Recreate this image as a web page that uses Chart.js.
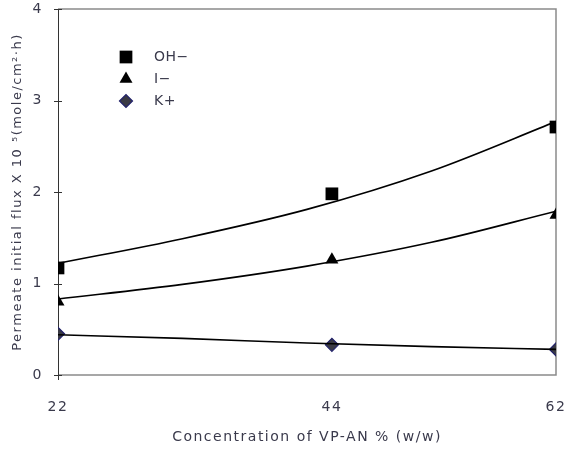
<!DOCTYPE html>
<html>
<head>
<meta charset="utf-8">
<script src="https://cdn.jsdelivr.net/npm/chart.js@4"></script>
<style>
  html, body { margin: 0; padding: 0; background: #fff; }
  #wrap { width: 566px; height: 452px; }
</style>
</head>
<body>
<div id="wrap"><canvas id="fluxChart" width="566" height="452"></canvas></div>
<script>
// measured concentrations and fluxes
const concentration = [22, 44, 62];
const fluxOH = [1.17, 1.98, 2.71];
const fluxI = [0.80, 1.26, 1.75];
const fluxK = [0.45, 0.33, 0.28];

// trend curves, sampled along the x range
const trendX = [22, 32, 42, 52, 62];
const trendOH = [1.22, 1.49, 1.81, 2.23, 2.77];
const trendI = [0.83, 0.99, 1.19, 1.45, 1.79];
const trendK = [0.44, 0.40, 0.35, 0.31, 0.28];

const xTicks = [22, 44, 62];
const yTicks = [0, 1, 2, 3, 4];

const textColor = '#3a3a4c';
const font = { family: 'DejaVu Sans', size: 14 };

function pairs(xs, ys) {
  return xs.map((x, i) => ({ x, y: ys[i] }));
}

function trendSet(ys) {
  return {
    data: pairs(trendX, ys),
    borderColor: '#000',
    borderWidth: 1.6,
    pointRadius: 0,
    cubicInterpolationMode: 'monotone',
    fill: false,
    showLine: true
  };
}

const series = [
  { label: 'OH\u2212', data: pairs(concentration, fluxOH), pointStyle: 'rect', pointRadius: 9,
    backgroundColor: '#000', borderColor: '#000', borderWidth: 0 },
  { label: 'I\u2212', data: pairs(concentration, fluxI), pointStyle: 'triangle', pointRadius: 7.5,
    backgroundColor: '#000', borderColor: '#000', borderWidth: 0 },
  { label: 'K+', data: pairs(concentration, fluxK), pointStyle: 'rectRot', pointRadius: 6.5,
    backgroundColor: '#3a3a44', borderColor: '#22226a', borderWidth: 1.2 }
];

// wider letter spacing for all chart text (canvas resize resets it)
const spacing = {
  id: 'spacing',
  beforeUpdate(chart) { chart.ctx.letterSpacing = '1.5px'; },
  beforeDraw(chart) { chart.ctx.letterSpacing = '1.5px'; }
};

// small legend inside the plot, top left
const legendBox = {
  id: 'legendBox',
  afterDatasetsDraw(chart) {
    const ctx = chart.ctx;
    ctx.save();
    ctx.font = '14px "DejaVu Sans"';
    ctx.letterSpacing = '0.5px';
    ctx.textBaseline = 'middle';
    series.forEach((s, i) => {
      const y = 57 + i * 22;
      ctx.fillStyle = s.backgroundColor;
      ctx.strokeStyle = s.borderColor;
      ctx.lineWidth = s.borderWidth;
      Chart.helpers.drawPoint(ctx, {
        pointStyle: s.pointStyle,
        radius: s.pointRadius,
        borderWidth: s.borderWidth
      }, 126, y);
      ctx.fillStyle = textColor;
      ctx.fillText(s.label, 154, y);
    });
    ctx.restore();
  }
};

// y ticks crossing the axis, and the gray frame
const frame = {
  id: 'frame',
  beforeDatasetsDraw(chart) {
    const { ctx, chartArea: a, scales } = chart;
    ctx.save();
    ctx.strokeStyle = '#8a8a8a';
    ctx.lineWidth = 1.5;
    ctx.beginPath();
    ctx.moveTo(a.left, a.top);
    ctx.lineTo(a.right, a.top);
    ctx.lineTo(a.right, a.bottom);
    ctx.lineTo(a.left, a.bottom);
    ctx.stroke();
    ctx.strokeStyle = '#333';
    ctx.lineWidth = 1;
    ctx.beginPath();
    ctx.moveTo(a.left + 0.5, a.top);
    ctx.lineTo(a.left + 0.5, a.bottom + 5);
    yTicks.forEach(v => {
      const py = Math.round(scales.y.getPixelForValue(v)) + 0.5;
      ctx.moveTo(a.left - 4, py);
      ctx.lineTo(a.left + 4, py);
    });
    ctx.stroke();
    ctx.restore();
  }
};

new Chart(document.getElementById('fluxChart'), {
  type: 'scatter',
  data: {
    datasets: [
      trendSet(trendOH), trendSet(trendI), trendSet(trendK),
      ...series
    ]
  },
  options: {
    responsive: false,
    animation: false,
    layout: { padding: { top: 9, right: 10, left: 0, bottom: 0 } },
    plugins: {
      legend: { display: false },
      tooltip: { enabled: false }
    },
    scales: {
      x: {
        type: 'linear',
        min: 22,
        max: 62,
        afterBuildTicks: scale => { scale.ticks = xTicks.map(v => ({ value: v })); },
        afterFit: scale => {
          scale.height = 77;
          scale.paddingLeft = 0;
          scale.paddingRight = 0;
        },
        border: { display: false },
        grid: { display: false },
        ticks: { color: textColor, font, padding: 16, maxRotation: 0 },
        title: {
          display: true,
          text: 'Concentration of VP-AN % (w/w)',
          color: textColor,
          font,
          padding: { top: 4, bottom: 6 }
        }
      },
      y: {
        min: 0,
        max: 4,
        afterBuildTicks: scale => { scale.ticks = yTicks.map(v => ({ value: v })); },
        afterFit: scale => {
          scale.width = 58;
          scale.paddingTop = 0;
          scale.paddingBottom = 0;
        },
        border: { display: false },
        grid: { display: false },
        ticks: { color: textColor, font, padding: 7 },
        title: {
          display: true,
          text: 'Permeate initial flux X 10 \u2075(mole/cm\u00b2\u00b7h)',
          color: textColor,
          font: { family: 'DejaVu Sans', size: 13 },
          padding: { top: 10, bottom: 4 }
        }
      }
    }
  },
  plugins: [spacing, frame, legendBox]
});
</script>
</body>
</html>
